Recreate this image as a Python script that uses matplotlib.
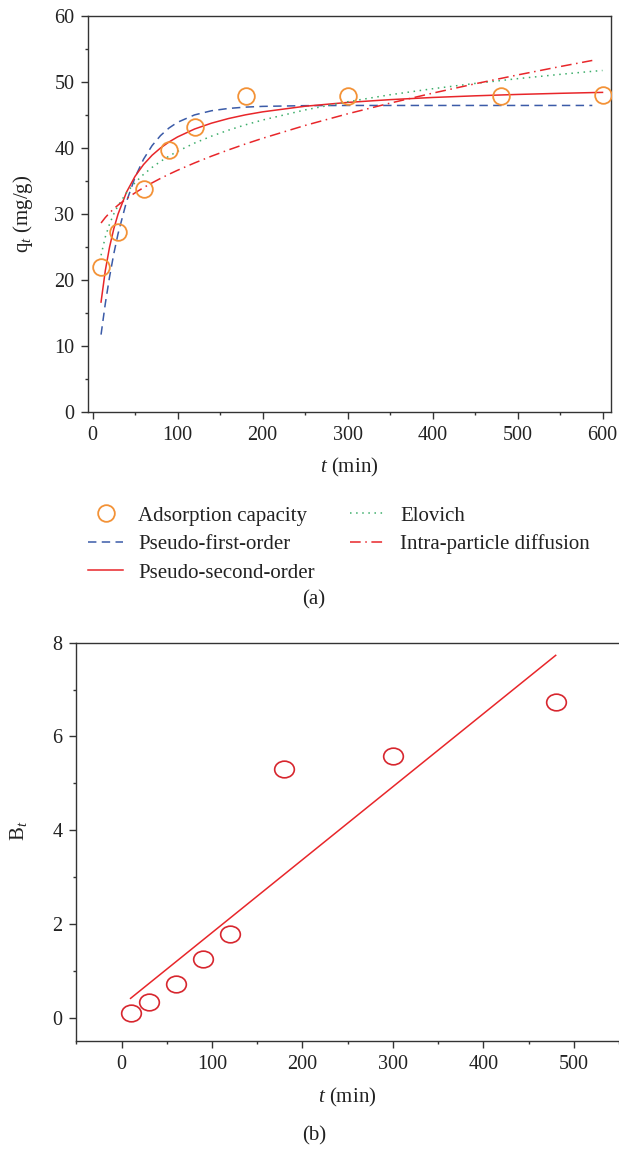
import matplotlib
matplotlib.use('Agg')
import matplotlib.pyplot as plt
from matplotlib.ticker import MultipleLocator
from matplotlib.markers import MarkerStyle
from matplotlib.transforms import Affine2D

plt.rcParams['font.family'] = ['Liberation Serif', 'DejaVu Serif']
plt.rcParams['font.size'] = 14.5
plt.rcParams['mathtext.fontset'] = 'custom'
plt.rcParams['mathtext.rm'] = 'Liberation Serif'
plt.rcParams['mathtext.it'] = 'Liberation Serif:italic'

# (a) kinetics data
t_exp = [10, 30, 60, 90, 120, 180, 300, 480, 600]
q_exp = [21.9, 27.2, 33.7, 39.6, 43.1, 47.8, 47.85, 47.9, 48.0]

t_fit = [10, 15, 20, 25, 30, 40, 50, 60, 70, 80, 90, 100, 120, 140, 160,
         180, 200, 250, 300, 350, 400, 450, 500, 550, 588, 600]
q_pfo = [11.68, 16.37, 20.42, 23.93, 26.96, 31.85, 35.51, 38.26, 40.31, 41.84,
         42.99, 43.85, 44.97, 45.60, 45.95, 46.15, 46.26, 46.37, 46.4, 46.4,
         46.4, 46.4, 46.4, 46.4, 46.4]
q_pso = [16.61, 21.37, 24.94, 27.72, 29.94, 33.28, 35.66, 37.45, 38.85, 39.96,
         40.87, 41.63, 42.83, 43.72, 44.42, 44.98, 45.43, 46.28, 46.86, 47.28,
         47.61, 47.86, 48.07, 48.24, 48.35, 48.38]
q_elo = [23.70, 26.47, 28.44, 29.97, 31.21, 33.18, 34.71, 35.96, 37.01, 37.92,
         38.73, 39.45, 40.70, 41.75, 42.66, 43.47, 44.19, 45.72, 46.96, 48.02,
         48.93, 49.74, 50.46, 51.11, 51.57, 51.70]
q_ipd = [28.59, 29.42, 30.12, 30.74, 31.30, 32.29, 33.16, 33.95, 34.67, 35.35,
         35.98, 36.58, 37.69, 38.72, 39.67, 40.57, 41.42, 43.37, 45.13, 46.75,
         48.26, 49.68, 51.02, 52.29, 53.22]

# (b) Boyd plot
t_b = [10, 30, 60, 90, 120, 180, 300, 480]
Bt = [0.10, 0.34, 0.71, 1.25, 1.78, 5.30, 5.58, 6.73]
t_line = [10, 480]
Bt_line = [0.41, 7.73]

W, H = 619, 1149
fig = plt.figure(figsize=(W / 100, H / 100), dpi=100)

ax1 = fig.add_axes([88.3 / W, 1 - 411.7 / H, (611 - 88.3) / W, (411.7 - 15.7) / H])
ax2 = fig.add_axes([76.3 / W, 1 - 1041 / H, (619 - 76.3) / W, (1041 - 642.7) / H])

orange = '#F39237'
blue = '#3B5BA8'
red = '#E8262A'
green = '#3DAE6B'

ax1.plot(t_exp, q_exp, ls='none', marker='o', ms=12, mfc='none', mec=orange,
         mew=1.3, label='Adsorption capacity', zorder=5)
ax1.plot(t_fit[:len(q_pfo)], q_pfo, color=blue, lw=1.1, dashes=(5.5, 3.5),
         label='Pseudo-first-order')
ax1.plot(t_fit, q_pso, color=red, lw=1.1, label='Pseudo-second-order')
ax1.plot(t_fit, q_elo, color=green, lw=1.1, dashes=(1, 3), label='Elovich')
ax1.plot(t_fit[:len(q_ipd)], q_ipd, color=red, lw=1.1, dashes=(7, 3, 1, 3),
         label='Intra-particle diffusion')

ax1.set_xlim(-5, 610)
ax1.set_ylim(0, 60)
ax1.xaxis.set_major_locator(MultipleLocator(100))
ax1.xaxis.set_minor_locator(MultipleLocator(50))
ax1.yaxis.set_major_locator(MultipleLocator(10))
ax1.yaxis.set_minor_locator(MultipleLocator(5))
ax1.set_xlabel('$t$ (min)', va='center', fontsize=15)
ax1.xaxis.set_label_coords(0.5, -0.1397)
ax1.set_ylabel('q$_{t}$ (mg/g)', va='center', fontsize=15)
ax1.yaxis.set_label_coords(-0.125, 0.5)

ell = MarkerStyle('o', transform=Affine2D().scale(1.18, 1.0))
ax2.plot(t_b, Bt, ls='none', marker=ell, ms=12, mfc='none', mec='#D7262E',
         mew=1.2, zorder=5)
ax2.plot(t_line, Bt_line, color=red, lw=1.1)
ax2.set_xlim(-50, 550)
ax2.set_ylim(-0.5, 8)
ax2.xaxis.set_major_locator(MultipleLocator(100))
ax2.xaxis.set_minor_locator(MultipleLocator(50))
ax2.yaxis.set_major_locator(MultipleLocator(2))
ax2.yaxis.set_minor_locator(MultipleLocator(1))
ax2.set_xlabel('$t$ (min)', va='center', fontsize=15)
ax2.xaxis.set_label_coords(0.5, -0.1424)
ax2.set_ylabel('B$_{t}$', va='center', fontsize=15)
ax2.yaxis.set_label_coords(-0.1056, 0.527)
ax2.spines['right'].set_visible(False)

for ax in (ax1, ax2):
    for s in ax.spines.values():
        s.set_linewidth(1.0)
        s.set_color('#333333')
    ax.tick_params(which='major', direction='out', length=5, width=1.0,
                   color='#333333', labelcolor='#222222', pad=5)
    ax.tick_params(which='minor', direction='out', length=2.5, width=1.0,
                   color='#333333')
    ax.tick_params(top=False, right=False, which='both')
    ax.xaxis.label.set_color('#222222')
    ax.yaxis.label.set_color('#222222')

h, l = ax1.get_legend_handles_labels()
fig.legend(h, l, loc='upper left', bbox_to_anchor=(88 / W, 1 - 506 / H),
           ncol=2, frameon=False, borderpad=0, borderaxespad=0, fontsize=15,
           handlelength=1.7, handletextpad=0.7, columnspacing=1.7,
           labelspacing=0.43, labelcolor='#222222')

fig.text(314 / W, 1 - 600 / H, '(a)', ha='center', va='center', color='#222222',
         fontsize=15)
fig.text(314 / W, 1 - 1136 / H, '(b)', ha='center', va='center', color='#222222',
         fontsize=15)

fig.savefig('out.png', dpi=100)
